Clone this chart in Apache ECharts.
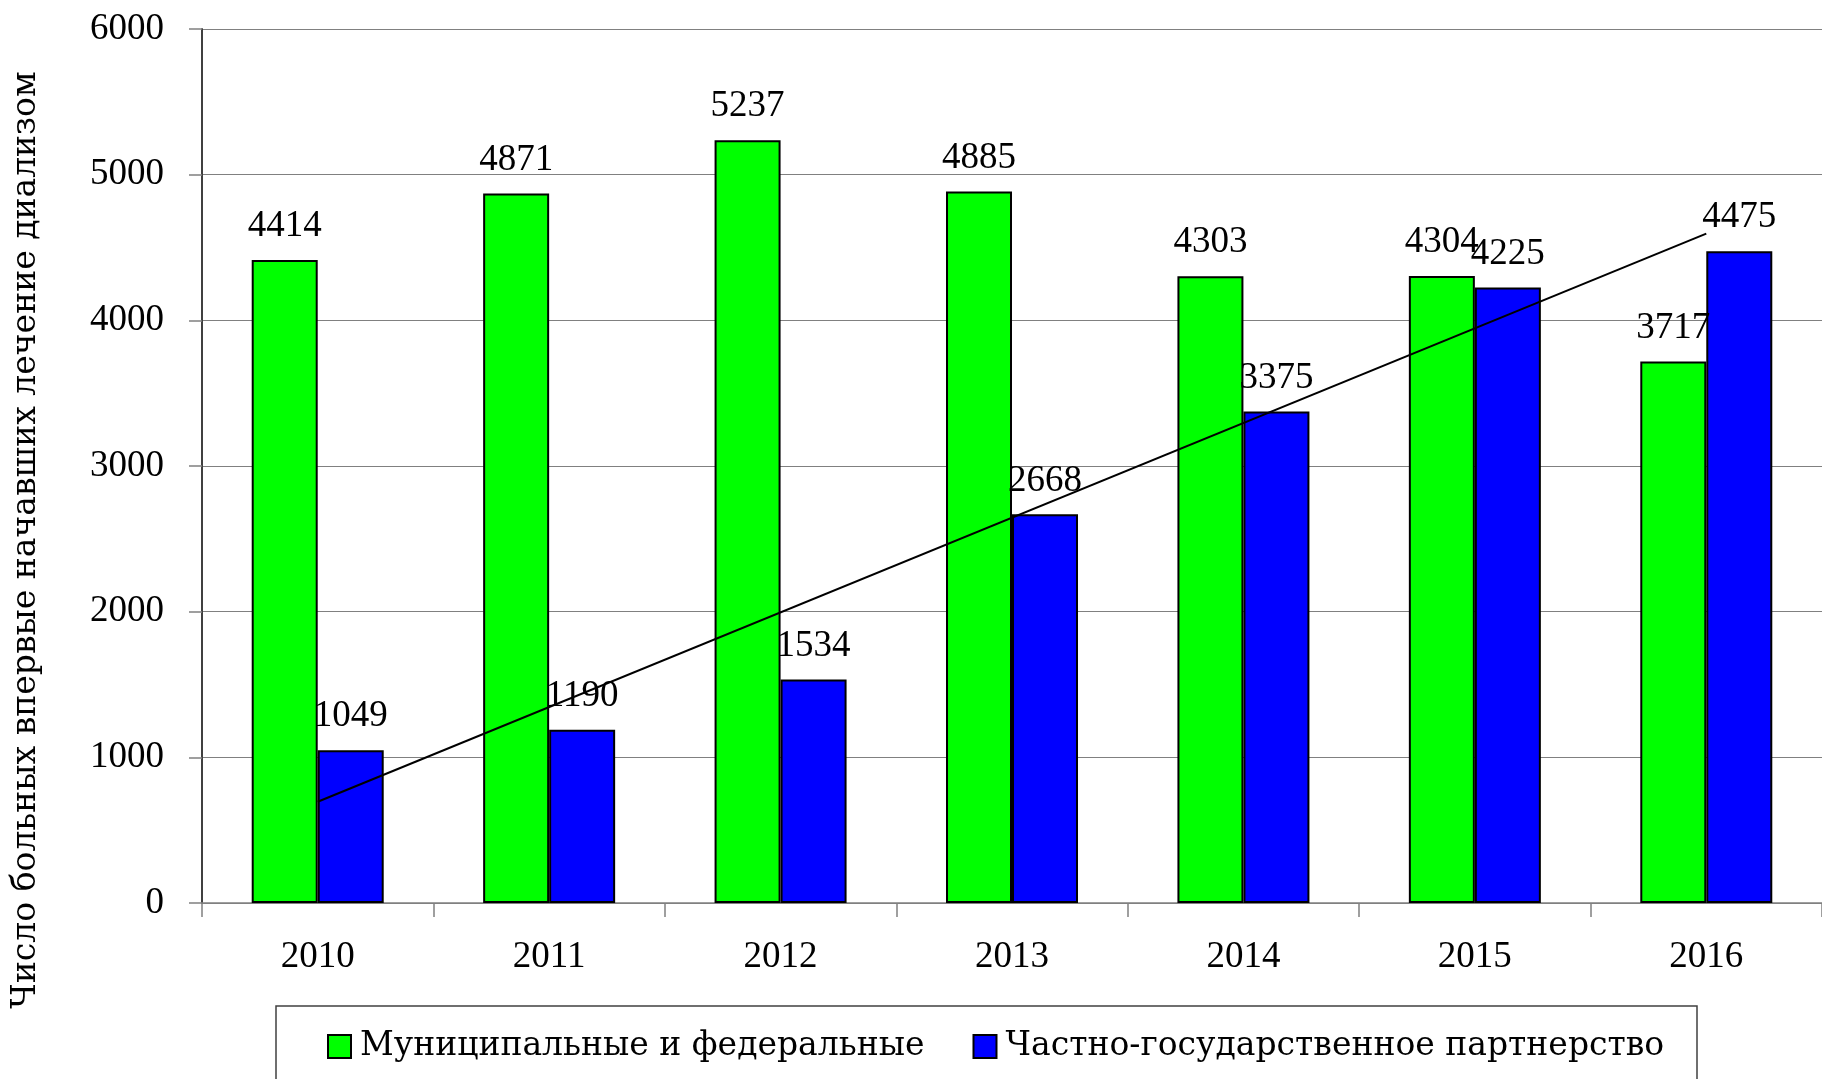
<!DOCTYPE html>
<html>
<head>
    <meta charset="UTF-8">
    <title>Диализ</title>
    <script src="https://cdn.jsdelivr.net/npm/echarts@6/dist/echarts.min.js"></script>
    <style>
        html, body { margin: 0; padding: 0; background: #fff; }
        #chart { width: 1822px; height: 1079px; }
    </style>
</head>
<body>
<div id="chart"></div>
<script>
    // данные
    const years = ['2010', '2011', '2012', '2013', '2014', '2015', '2016'];
    const municipal = [4414, 4871, 5237, 4885, 4303, 4304, 3717];
    const partnership = [1049, 1190, 1534, 2668, 3375, 4225, 4475];
    // линия тренда (концы)
    const trend = [695, null, null, null, null, null, 4595];
    const yTicks = [0, 1000, 2000, 3000, 4000, 5000, 6000];

    const NUM_FONT = '"Liberation Serif", serif';
    const TXT_FONT = '"DejaVu Serif", serif';
    const FS = 37;

    const chart = echarts.init(document.getElementById('chart'));

    const barLabel = {
        show: true,
        position: 'top',
        distance: 15,
        color: '#000',
        fontFamily: NUM_FONT,
        fontSize: FS
    };

    const option = {
        animation: false,
        backgroundColor: '#fff',
        grid: {
            left: 202,
            right: 0,
            top: 29,
            bottom: 176
        },
        legend: {
            data: ['Муниципальные и федеральные', 'Частно-государственное партнерство'],
            left: 322,
            top: 1025,
            itemWidth: 23,
            itemHeight: 23,
            itemGap: 48,
            icon: 'rect',
            textStyle: {
                fontFamily: TXT_FONT,
                fontSize: 33,
                color: '#000',
                padding: [0, 0, 0, 4]
            }
        },
        graphic: [
            {
                type: 'rect',
                shape: { x: 276, y: 1006, width: 1421, height: 120 },
                style: { fill: 'none', stroke: '#404040', lineWidth: 1.5 },
                silent: true
            },
            {
                type: 'text',
                x: 26,
                y: 540,
                rotation: Math.PI / 2,
                style: {
                    text: 'Число больных впервые начавших лечение диализом',
                    fontFamily: TXT_FONT,
                    fontSize: 33,
                    fill: '#000',
                    align: 'center',
                    verticalAlign: 'middle'
                }
            }
        ],
        xAxis: {
            type: 'category',
            data: years,
            axisLine: { lineStyle: { color: '#808080', width: 1.5 } },
            axisTick: { show: true, length: 14, lineStyle: { color: '#808080', width: 1.5 } },
            axisLabel: {
                margin: 36,
                color: '#000',
                fontFamily: NUM_FONT,
                fontSize: FS
            }
        },
        yAxis: {
            type: 'value',
            min: yTicks[0],
            max: yTicks[yTicks.length - 1],
            interval: 1000,
            axisLine: { show: true, lineStyle: { color: '#404040', width: 2 } },
            axisTick: { show: true, length: 13, lineStyle: { color: '#808080', width: 1.5 } },
            splitLine: { show: true, lineStyle: { color: '#808080', width: 1.2 } },
            axisLabel: {
                margin: 38,
                color: '#000',
                fontFamily: NUM_FONT,
                fontSize: FS,
                formatter: function (v) { return String(v); }
            }
        },
        series: [
            {
                name: 'Муниципальные и федеральные',
                type: 'bar',
                data: municipal,
                barWidth: 66,
                barGap: '0%',
                itemStyle: { color: '#00ff00', borderColor: '#000', borderWidth: 2 },
                label: barLabel
            },
            {
                name: 'Частно-государственное партнерство',
                type: 'bar',
                data: partnership,
                barWidth: 66,
                barGap: '0%',
                itemStyle: { color: '#0000ff', borderColor: '#000', borderWidth: 2 },
                label: barLabel
            },
            {
                name: 'тренд',
                type: 'line',
                data: trend,
                connectNulls: true,
                symbol: 'none',
                z: 5,
                lineStyle: { color: '#000', width: 2 }
            }
        ]
    };

    chart.setOption(option);
</script>
</body>
</html>
